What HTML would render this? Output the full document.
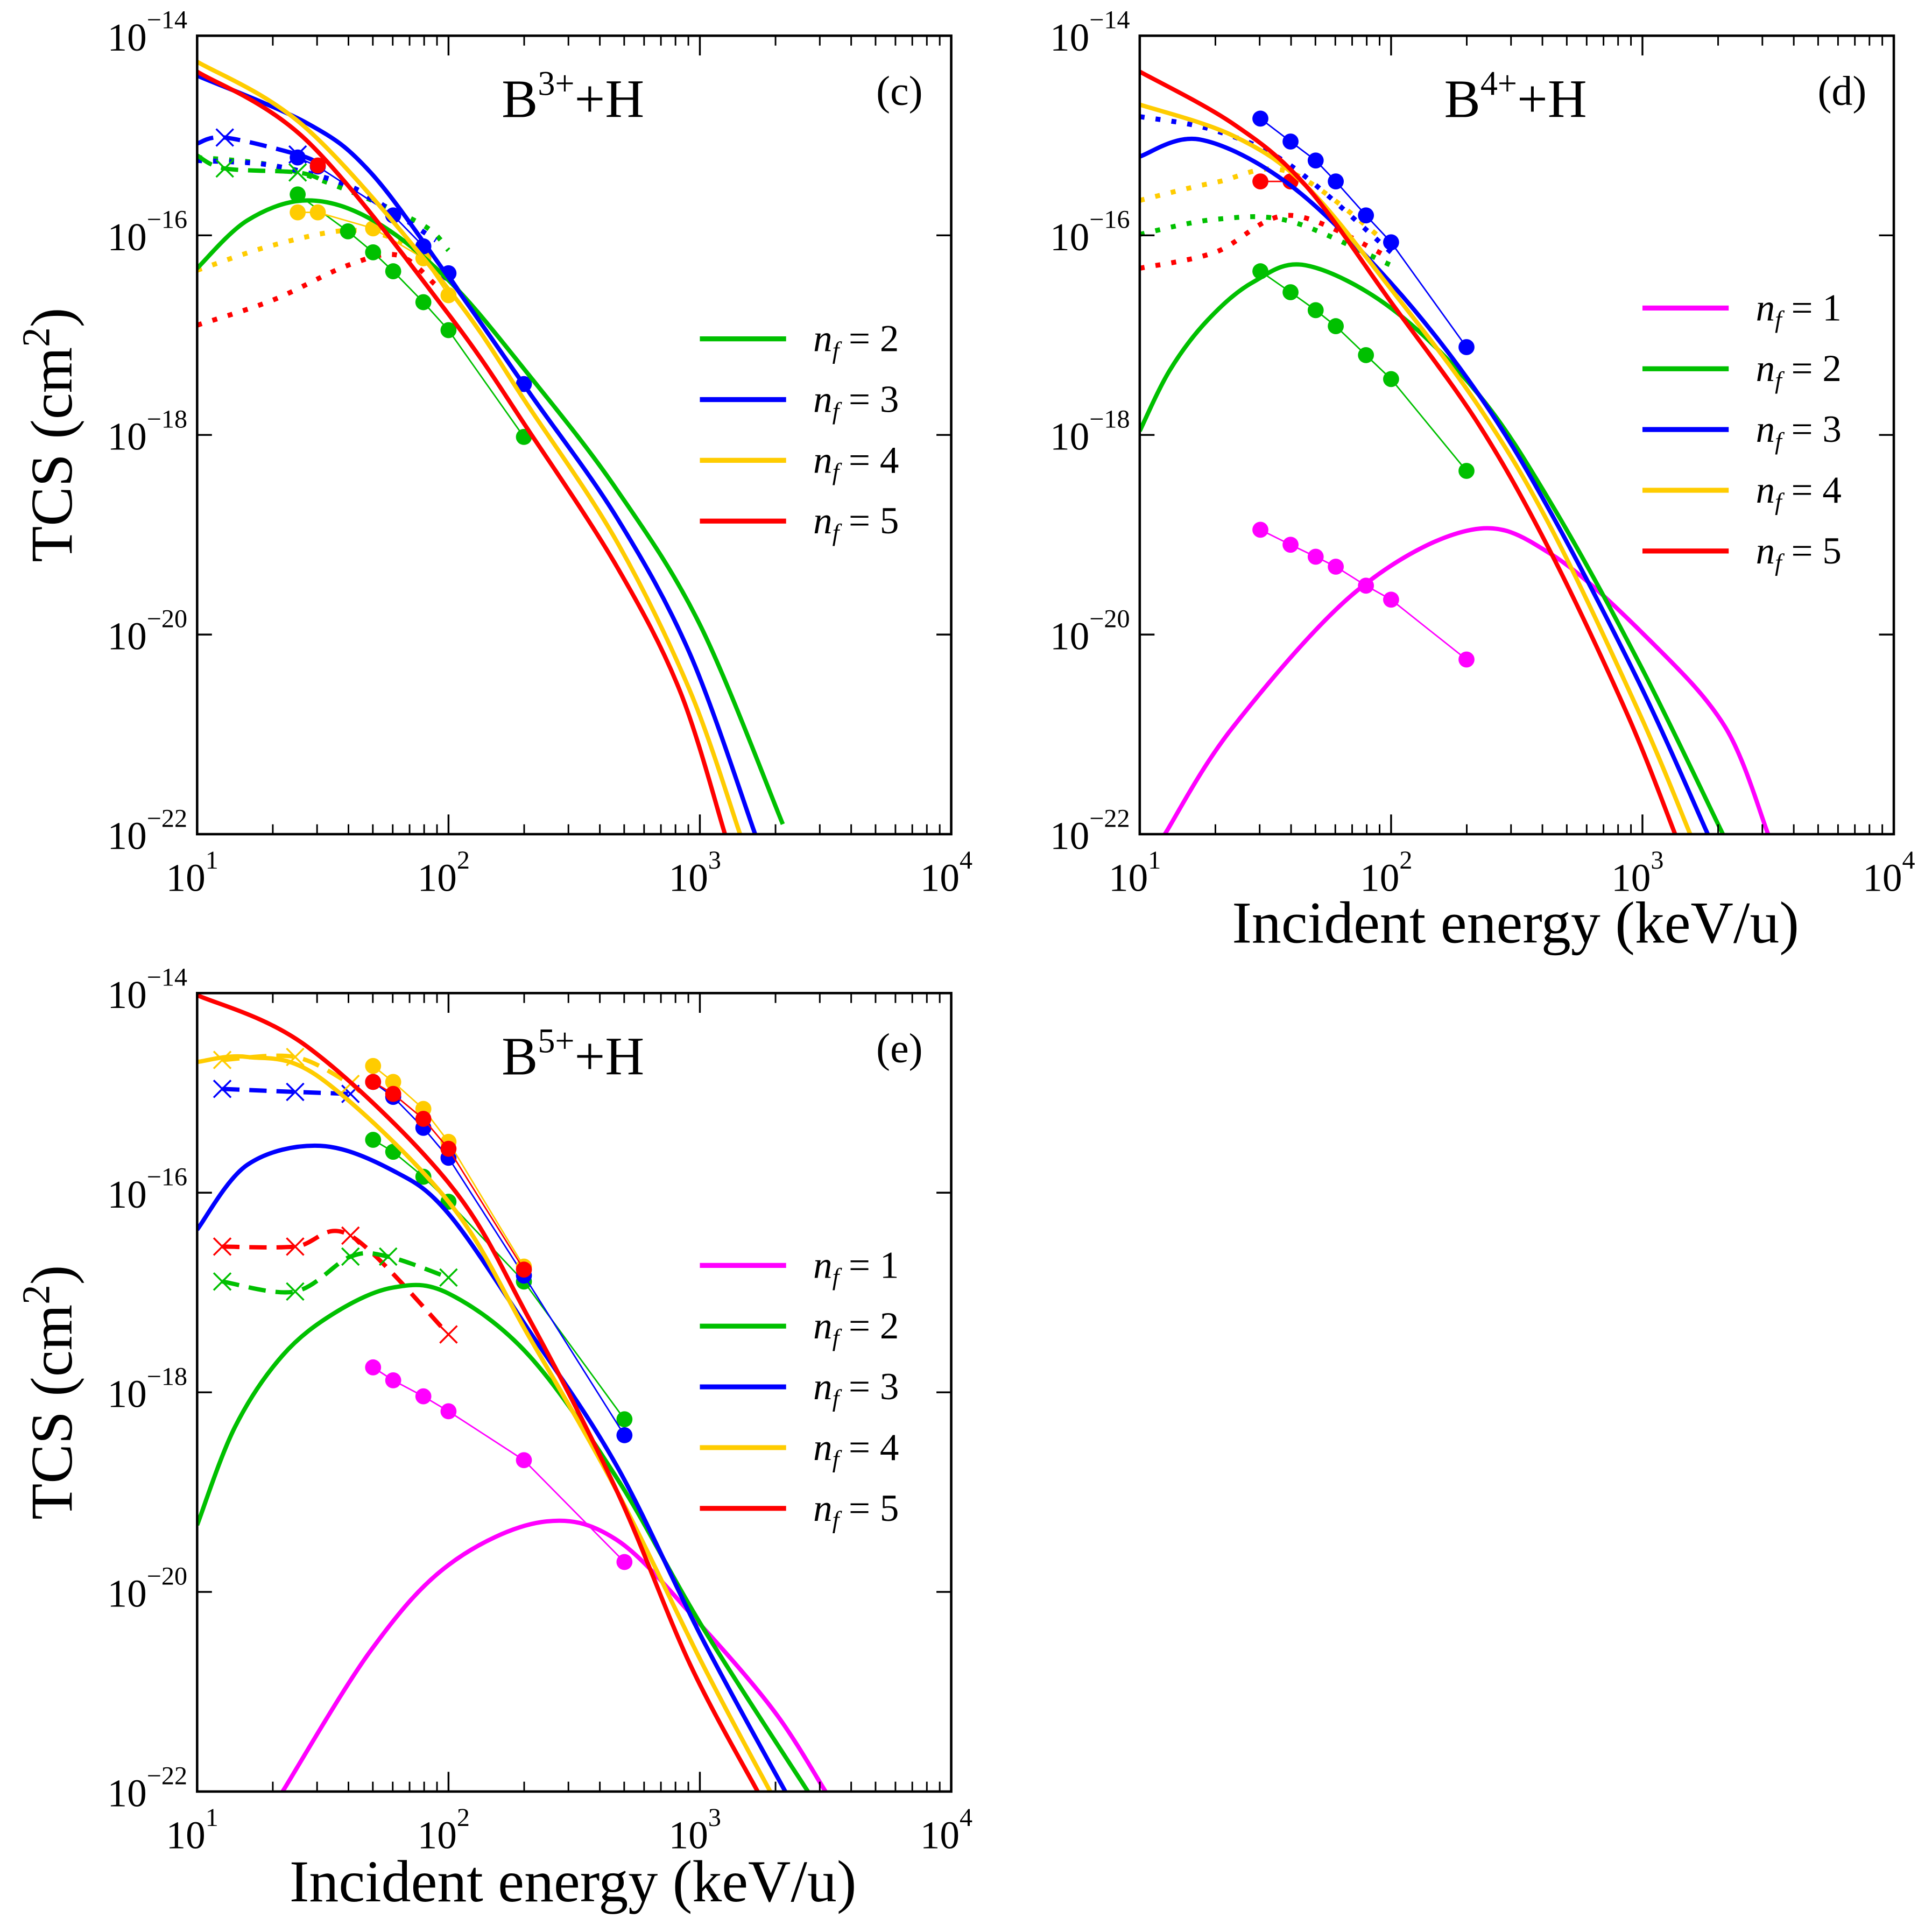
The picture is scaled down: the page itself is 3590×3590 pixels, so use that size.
<!DOCTYPE html>
<html><head><meta charset="utf-8"><style>
html,body{margin:0;padding:0;background:#fff}
svg{display:block}
text{font-family:"Liberation Serif",serif;fill:#000}
</style></head><body>
<svg id="chart" width="3590" height="3590" viewBox="0 0 1568 1568" xmlns="http://www.w3.org/2000/svg"></svg>
<script>
// ---------- data (log10 E in keV/u, log10 TCS in cm^2) ----------
// panel c
const cGreenE=[1,1.2,1.44,1.7,2,2.32,2.67,3.0,3.33];
const cGreenS=[-16.33,-15.85,-15.65,-15.85,-16.45,-17.4,-18.55,-19.9,-21.9];
const cBlueE=[1,1.44,1.69,2.0,2.32,2.67,2.96,3.22];
const cBlueS=[-14.4,-14.88,-15.37,-16.42,-17.57,-18.83,-20.19,-22.0];
const cYellowE=[1,1.44,2.0,2.32,2.67,2.96,3.16];
const cYellowS=[-14.26,-14.94,-16.54,-17.72,-19.07,-20.56,-22.0];
const cRedE=[1,1.44,2.0,2.32,2.67,2.92,3.1];
const cRedS=[-14.36,-15.06,-16.79,-17.96,-19.32,-20.56,-22.0];
const cBlueDashE=[1,1.11,1.4,1.5], cBlueDashS=[-15.08,-15.02,-15.19,-15.3];
const cGreenDashE=[1,1.11,1.4,1.5], cGreenDashS=[-15.2,-15.33,-15.37,-15.45];
const cBlueDotE=[1,1.3,1.6,1.8,1.95], cBlueDotS=[-15.25,-15.3,-15.5,-15.8,-16.05];
const cGreenDotE=[1,1.3,1.6,1.9,2.0], cGreenDotS=[-15.22,-15.3,-15.55,-15.9,-16.15];
const cYellowDotE=[1,1.3,1.6,1.8,1.95], cYellowDotS=[-16.35,-16.1,-15.95,-16.05,-16.3];
const cRedDotE=[1,1.3,1.6,1.8,1.95], cRedDotS=[-16.9,-16.65,-16.3,-16.2,-16.5];
const cBluePtE=[1.4,1.48,1.78,1.9,2,2.3], cBluePtS=[-15.22,-15.31,-15.8,-16.11,-16.38,-17.49];
const cGreenPtE=[1.4,1.6,1.7,1.78,1.9,2,2.3], cGreenPtS=[-15.59,-15.96,-16.17,-16.36,-16.67,-16.95,-18.02];
const cYellowPtE=[1.4,1.48,1.7,1.9,2], cYellowPtS=[-15.77,-15.77,-15.93,-16.23,-16.6];
const cRedPtE=[1.48], cRedPtS=[-15.3];
// panel d
const dMagE=[1.1,1.37,1.86,2.32,2.64,3.03,3.33,3.5], dMagS=[-22,-20.93,-19.57,-18.95,-19.2,-20.06,-20.93,-22];
const dGreenE=[1,1.12,1.27,1.45,1.66,2.0,2.35,2.64,2.99,3.32], dGreenS=[-17.96,-17.35,-16.85,-16.47,-16.3,-16.73,-17.6,-18.7,-20.3,-22];
const dBlueE=[1,1.24,1.6,2.0,2.35,2.64,2.99,3.26], dBlueS=[-15.21,-15.04,-15.5,-16.48,-17.6,-18.8,-20.5,-22];
const dYellowE=[1,1.37,1.66,2.0,2.35,2.64,2.99,3.19], dYellowS=[-14.69,-15.0,-15.5,-16.54,-17.72,-18.95,-20.8,-22];
const dRedE=[1,1.37,1.66,2.0,2.35,2.64,2.94,3.13], dRedS=[-14.36,-14.88,-15.5,-16.67,-17.9,-19.2,-20.8,-22];
const dBlueDotE=[1,1.3,1.6,2.0], dBlueDotS=[-14.81,-14.95,-15.3,-16.17];
const dYellowDotE=[1,1.3,1.6,2.0], dYellowDotS=[-15.65,-15.47,-15.37,-16.11];
const dGreenDotE=[1,1.3,1.6,2.0], dGreenDotS=[-15.99,-15.84,-15.86,-16.3];
const dRedDotE=[1,1.3,1.6,2.0], dRedDotS=[-16.33,-16.17,-15.8,-16.23];
const dPtE=[1.48,1.6,1.7,1.78,1.9,2,2.3];
const dBluePtS=[-14.83,-15.06,-15.25,-15.46,-15.8,-16.07,-17.12];
const dGreenPtS=[-16.36,-16.57,-16.75,-16.91,-17.2,-17.44,-18.36];
const dMagPtS=[-18.95,-19.1,-19.22,-19.32,-19.51,-19.65,-20.25];
const dRedPtE=[1.48,1.6], dRedPtS=[-15.46,-15.46];
// panel e
const eMagE=[1.34,1.69,2.0,2.37,2.67,3.01,3.3,3.5], eMagS=[-22,-20.59,-19.73,-19.3,-19.48,-20.35,-21.21,-22];
const eGreenE=[1,1.15,1.34,1.55,1.78,2.0,2.32,2.67,3.01,3.43], eGreenS=[-19.33,-18.35,-17.63,-17.2,-16.95,-17.01,-17.63,-18.86,-20.35,-22];
const eBlueE=[1,1.2,1.49,1.78,2.0,2.32,2.67,3.01,3.34], eBlueS=[-16.37,-15.72,-15.53,-15.78,-16.21,-17.38,-18.74,-20.47,-22];
const eYellowE=[1,1.2,1.49,2.0,2.32,2.67,3.01,3.28], eYellowS=[-14.69,-14.64,-14.85,-16.09,-17.44,-18.99,-20.72,-22];
const eRedE=[1,1.44,2.0,2.32,2.67,2.96,3.23], eRedS=[-14.02,-14.54,-15.9,-17.26,-18.99,-20.72,-22];
const eBlueDashE=[1.1,1.39,1.61], eBlueDashS=[-14.96,-14.99,-15.01];
const eGreenDashE=[1.1,1.39,1.61,1.76,2.0], eGreenDashS=[-16.89,-16.99,-16.64,-16.64,-16.85];
const eRedDashE=[1.1,1.39,1.61,2.0], eRedDashS=[-16.54,-16.54,-16.43,-17.42];
const eYellowDashE=[1.1,1.39,1.61], eYellowDashS=[-14.67,-14.64,-14.91];
const ePtE=[1.7,1.78,1.9,2,2.3], ePt6E=[1.7,1.78,1.9,2,2.3,2.7];
const eYellowPtS=[-14.73,-14.89,-15.16,-15.49,-16.74];
const eRedPtS=[-14.89,-15.01,-15.26,-15.56,-16.77];
const eBluePtS=[-14.89,-15.04,-15.35,-15.65,-16.83,-18.43];
const eGreenPtS=[-15.47,-15.59,-15.84,-16.09,-16.89,-18.27];
const eMagPtS=[-17.75,-17.88,-18.04,-18.19,-18.68,-19.7];
const yTickExp=[-14,-16,-18,-20,-22];
const xTickExp=[1,2,3,4];

const COL={m:'#ff00ff',g:'#00c000',b:'#0000ff',y:'#ffcc00',r:'#ff0000'};
const svg=document.getElementById('chart');
const NS='http://www.w3.org/2000/svg';
function mk(tag,attrs,parent){const e=document.createElementNS(NS,tag);for(const k in attrs)e.setAttribute(k,attrs[k]);(parent||svg).appendChild(e);return e;}

function panel(name,x0,y0){
  const W=612,H=648;
  const g=mk('g',{});
  
  
  const clip=mk('clipPath',{id:'clip-'+name},g);
  mk('rect',{x:x0,y:y0,width:W,height:H},clip);
  const sx=v=>x0+(v-1)/3*W, sy=v=>y0+(-14-v)/8*H;
  const P={g,sx,sy,x0,y0,W,H};
  P.plot=mk('g',{'clip-path':'url(#clip-'+name+')'},g);
  return P;
}
function axes(P){
  const {g,sx,sy,x0,y0,W,H}=P;
  const ax=mk('g',{},g);
  
  
  mk('rect',{x:x0,y:y0,width:W,height:H,fill:'none',stroke:'#000','stroke-width':2},ax);
  for(const e of yTickExp){const y=sy(e);
    mk('line',{x1:x0,x2:x0+12,y1:y,y2:y,stroke:'#000','stroke-width':1.5},ax);
    mk('line',{x1:x0+W-12,x2:x0+W,y1:y,y2:y,stroke:'#000','stroke-width':1.5},ax);
    const t=mk('text',{x:x0-8,y:y+12,'text-anchor':'end','font-size':32},ax);
    
    
    t.innerHTML='10<tspan dy="-18" font-size="21">−'+(-e)+'</tspan>';
  }
  for(const e of xTickExp){const x=sx(e);
    mk('line',{x1:x,x2:x,y1:y0,y2:y0+16,stroke:'#000','stroke-width':1.5},ax);
    mk('line',{x1:x,x2:x,y1:y0+H-16,y2:y0+H,stroke:'#000','stroke-width':1.5},ax);
    const t=mk('text',{x:x-4,y:y0+H+46,'text-anchor':'middle','font-size':32},ax);
    
    
    t.innerHTML='10<tspan dy="-18" font-size="21">'+e+'</tspan>';
    if(e<4)for(let k=2;k<10;k++){const xm=sx(e+Math.log10(k));
      mk('line',{x1:xm,x2:xm,y1:y0,y2:y0+8,stroke:'#000','stroke-width':1.3},ax);
      mk('line',{x1:xm,x2:xm,y1:y0+H-8,y2:y0+H,stroke:'#000','stroke-width':1.3},ax);}
  }
}
function smooth(pts){
  let d='M'+pts[0][0]+','+pts[0][1];
  for(let i=0;i<pts.length-1;i++){const p0=pts[i-1]||pts[i],p1=pts[i],p2=pts[i+1],p3=pts[i+2]||p2;
    d+=' C'+(p1[0]+(p2[0]-p0[0])/6)+','+(p1[1]+(p2[1]-p0[1])/6)+' '+(p2[0]-(p3[0]-p1[0])/6)+','+(p2[1]-(p3[1]-p1[1])/6)+' '+p2[0]+','+p2[1];}
  return d;
}
function curve(P,E,S,col,style,name){
  const pts=E.map((e,i)=>[P.sx(e),P.sy(S[i])]);
  const a={d:smooth(pts),fill:'none',stroke:col,'stroke-width':3.5};
  if(style==='dash')a['stroke-dasharray']='14,8';
  if(style==='dot'){a['stroke-dasharray']='4,9';a['stroke-width']=4;}
  const p=mk('path',a,P.plot);
  
  
}
function dots(P,E,S,col,name){
  const gg=mk('g',{},P.plot);
  
  
  mk('polyline',{points:E.map((e,i)=>P.sx(e)+','+P.sy(S[i])).join(' '),fill:'none',stroke:col,'stroke-width':1.2},gg);
  E.forEach((e,i)=>mk('circle',{cx:P.sx(e),cy:P.sy(S[i]),r:6.5,fill:col},gg));
}
function crosses(P,E,S,col,name){
  const gg=mk('g',{},P.plot);
  
  
  E.forEach((e,i)=>{const x=P.sx(e),y=P.sy(S[i]);
    mk('path',{d:`M${x-7},${y-7}L${x+7},${y+7}M${x-7},${y+7}L${x+7},${y-7}`,stroke:col,'stroke-width':1.5},gg);});
}
function titles(P,ion,lab,tx,ty){
  const t=mk('text',{x:tx,y:ty,'text-anchor':'middle','font-size':44},P.g);
  
  
  t.innerHTML='B<tspan dy="-18" font-size="28">'+ion+'</tspan><tspan dy="18">+H</tspan>';
  const l=mk('text',{x:P.x0+P.W-42,y:P.y0+56,'text-anchor':'middle','font-size':34},P.g);
  
  
  l.textContent=lab;
}
function legend(P,items,lx,ly){
  const gg=mk('g',{},P.g);
  
  
  items.forEach((it,i)=>{const y=ly+i*49.3;
    const e=mk('g',{},gg);
    
    
    mk('line',{x1:lx,x2:lx+70,y1:y,y2:y,stroke:it[1],'stroke-width':4},e);
    const t=mk('text',{x:lx+92,y:y+10,'font-size':31},e);
    t.innerHTML='<tspan font-style="italic">n</tspan><tspan font-style="italic" font-size="20" dy="6">f</tspan><tspan dy="-6"> = '+it[0]+'</tspan>';
  });
}
function ylabel(cy){
  const t=mk('text',{x:0,y:0,'text-anchor':'middle','font-size':48,transform:`translate(58,${cy}) rotate(-90)`});
  
  
  t.innerHTML='TCS (cm<tspan dy="-18" font-size="32">2</tspan><tspan dy="18">)</tspan>';
}
function xlabel(cx,y){
  const t=mk('text',{x:cx,y:y,'text-anchor':'middle','font-size':48});
  
  
  t.textContent='Incident energy (keV/u)';
}

// Panel c
const C=panel('panel-c',160,29);
curve(C,cRedDotE,cRedDotS,COL.r,'dot','red-dotted');
curve(C,cYellowDotE,cYellowDotS,COL.y,'dot','yellow-dotted');
curve(C,cGreenDotE,cGreenDotS,COL.g,'dot','green-dotted');
curve(C,cBlueDotE,cBlueDotS,COL.b,'dot','blue-dotted');
curve(C,cGreenDashE,cGreenDashS,COL.g,'dash','green-dashed');
curve(C,cBlueDashE,cBlueDashS,COL.b,'dash','blue-dashed');
crosses(C,cGreenDashE.slice(1,3),cGreenDashS.slice(1,3),COL.g,'green-crosses');
crosses(C,cBlueDashE.slice(1,3),cBlueDashS.slice(1,3),COL.b,'blue-crosses');
dots(C,cGreenPtE,cGreenPtS,COL.g,'green-points');
dots(C,cYellowPtE,cYellowPtS,COL.y,'yellow-points');
dots(C,cBluePtE,cBluePtS,COL.b,'blue-points');
dots(C,cRedPtE,cRedPtS,COL.r,'red-points');
curve(C,cGreenE,cGreenS,COL.g,'solid','green-nf2');
curve(C,cBlueE,cBlueS,COL.b,'solid','blue-nf3');
curve(C,cYellowE,cYellowS,COL.y,'solid','yellow-nf4');
curve(C,cRedE,cRedS,COL.r,'solid','red-nf5');
axes(C);titles(C,'3+','(c)',465,95);
legend(C,[[2,COL.g],[3,COL.b],[4,COL.y],[5,COL.r]],568,275);

// Panel d
const D=panel('panel-d',925,29);
curve(D,dRedDotE,dRedDotS,COL.r,'dot','red-dotted');
curve(D,dGreenDotE,dGreenDotS,COL.g,'dot','green-dotted');
curve(D,dYellowDotE,dYellowDotS,COL.y,'dot','yellow-dotted');
curve(D,dBlueDotE,dBlueDotS,COL.b,'dot','blue-dotted');
dots(D,dPtE,dMagPtS,COL.m,'magenta-points');
dots(D,dPtE,dGreenPtS,COL.g,'green-points');
dots(D,dPtE,dBluePtS,COL.b,'blue-points');
dots(D,dRedPtE,dRedPtS,COL.r,'red-points');
curve(D,dMagE,dMagS,COL.m,'solid','magenta-nf1');
curve(D,dGreenE,dGreenS,COL.g,'solid','green-nf2');
curve(D,dBlueE,dBlueS,COL.b,'solid','blue-nf3');
curve(D,dYellowE,dYellowS,COL.y,'solid','yellow-nf4');
curve(D,dRedE,dRedS,COL.r,'solid','red-nf5');
axes(D);titles(D,'4+','(d)',1230,95);
legend(D,[[1,COL.m],[2,COL.g],[3,COL.b],[4,COL.y],[5,COL.r]],1333,250);

// Panel e
const E5=panel('panel-e',160,806);
curve(E5,eRedDashE,eRedDashS,COL.r,'dash','red-dashed');
curve(E5,eGreenDashE,eGreenDashS,COL.g,'dash','green-dashed');
curve(E5,eBlueDashE,eBlueDashS,COL.b,'dash','blue-dashed');
curve(E5,eYellowDashE,eYellowDashS,COL.y,'dash','yellow-dashed');
crosses(E5,eRedDashE,eRedDashS,COL.r,'red-crosses');
crosses(E5,eGreenDashE,eGreenDashS,COL.g,'green-crosses');
crosses(E5,eBlueDashE,eBlueDashS,COL.b,'blue-crosses');
crosses(E5,eYellowDashE,eYellowDashS,COL.y,'yellow-crosses');
dots(E5,ePt6E,eMagPtS,COL.m,'magenta-points');
dots(E5,ePt6E,eGreenPtS,COL.g,'green-points');
dots(E5,ePt6E,eBluePtS,COL.b,'blue-points');
dots(E5,ePtE,eYellowPtS,COL.y,'yellow-points');
dots(E5,ePtE,eRedPtS,COL.r,'red-points');
curve(E5,eMagE,eMagS,COL.m,'solid','magenta-nf1');
curve(E5,eGreenE,eGreenS,COL.g,'solid','green-nf2');
curve(E5,eBlueE,eBlueS,COL.b,'solid','blue-nf3');
curve(E5,eYellowE,eYellowS,COL.y,'solid','yellow-nf4');
curve(E5,eRedE,eRedS,COL.r,'solid','red-nf5');
axes(E5);titles(E5,'5+','(e)',465,872);
legend(E5,[[1,COL.m],[2,COL.g],[3,COL.b],[4,COL.y],[5,COL.r]],568,1027);

ylabel(353);ylabel(1130);
xlabel(1230,765);xlabel(465,1543);
</script>
</body></html>
